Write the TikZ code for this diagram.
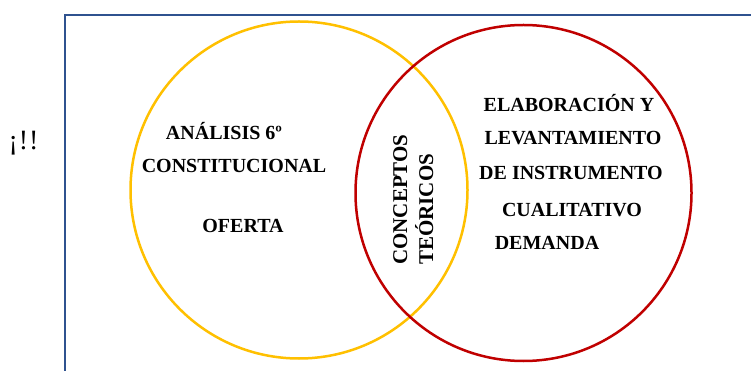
\documentclass[tikz,border=0pt]{standalone}
\usepackage{fontspec}
\setmainfont{Liberation Serif}
\definecolor{framecol}{RGB}{47,82,143}
\definecolor{yel}{RGB}{255,192,0}
\definecolor{redc}{RGB}{192,0,0}
\tikzset{
  lbl/.style={inner sep=0pt, anchor=base, font=\fontsize{20}{24}\selectfont\bfseries},
  vlbl/.style={inner sep=0pt, anchor=base west, rotate=90, font=\fontsize{21}{25}\selectfont\bfseries},
  ring/.style={line width=2.5pt}
}
\begin{document}
\begin{tikzpicture}[x=1pt,y=-1pt]
\useasboundingbox (0,0) rectangle (751,371);
\clip (0,0) rectangle (751,371);
\fill[white] (0,0) rectangle (751,371);
\draw[framecol, line width=2.8pt] (65,380) |- (760,15);
\node[inner sep=0pt, anchor=base, font=\fontsize{28}{32}\selectfont] (excl) at (23.5,150) {¡\kern1pt!\kern1pt!};
\draw[ring, yel] (299,190) circle[radius=168.5pt];
\draw[ring, redc] (523.5,193) circle[radius=168pt];
\node[lbl] (a1) at (224,140) {ANÁLISIS 6º};
\node[lbl] (a2) at (234,173) {CONSTITUCIONAL};
\node[lbl] (a3) at (243,232) {OFERTA};
\node[lbl] (b1) at (569,112) {ELABORACIÓN Y};
\node[lbl] (b2) at (573,145) {LEVANTAMIENTO};
\node[lbl] (b3) at (571,180) {DE INSTRUMENTO};
\node[lbl] (b4) at (572,216) {CUALITATIVO};
\node[lbl] (b5) at (547,249) {DEMANDA};
\node[vlbl] (c1) at (407,265) {CONCEPTOS};
\node[vlbl] (c2) at (433,265) {TEÓRICOS};
\end{tikzpicture}
\end{document}
